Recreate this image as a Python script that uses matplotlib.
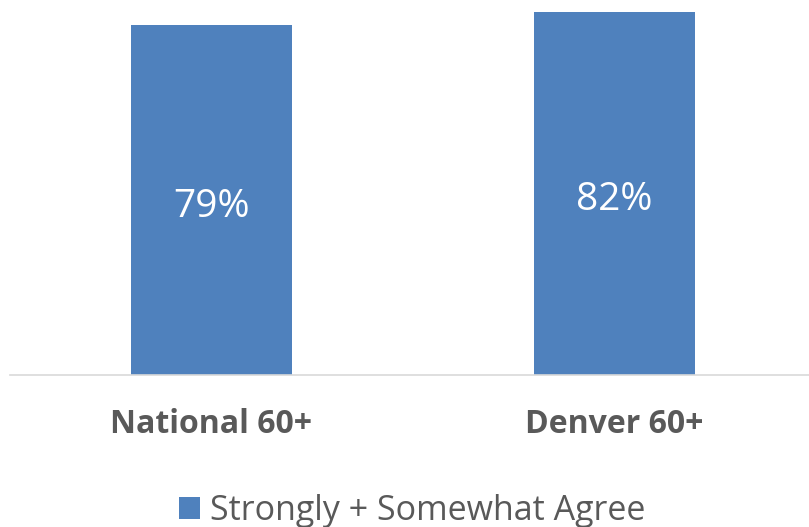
import matplotlib.pyplot as plt

categories = ['National 60+', 'Denver 60+']
values = [79, 82]
series_name = 'Strongly + Somewhat Agree'

bar_color = '#4F81BD'
text_grey = '#595959'

plt.rcParams['font.family'] = ['Open Sans', 'DejaVu Sans']

fig = plt.figure(figsize=(8.09, 5.27), dpi=100)
# axes: left edge at the axis line start, bottom at the baseline (y=375 px)
ax = fig.add_axes([10 / 809, (527 - 375) / 527, 806 / 809, 375 / 527])

x = range(len(categories))
bars = ax.bar(x, values, width=0.4, color=bar_color, label=series_name)
ax.set_xlim(-0.5, 1.5)
ax.set_ylim(0, 84.6)

for b, v in zip(bars, values):
    ax.annotate(f'{v}%', (b.get_x() + b.get_width() / 2, v / 2),
                xytext=(0, -5), textcoords='offset points',
                ha='center', va='center', color='white', fontsize=28)

ax.set_xticks(list(x))
ax.set_xticklabels(categories, fontsize=23, fontweight='bold', color=text_grey)
ax.tick_params(axis='x', length=0, pad=24)
ax.set_yticks([])
for side in ['left', 'right', 'top']:
    ax.spines[side].set_visible(False)
ax.spines['bottom'].set_color('#D9D9D9')
ax.spines['bottom'].set_linewidth(1.2)

leg = fig.legend(loc='center', bbox_to_anchor=(0.5 + 8 / 809, 1 - 511 / 527), frameon=False,
                 fontsize=24.5, handlelength=0.62, handleheight=0.62, handletextpad=0.3,
                 labelcolor=text_grey)

fig.savefig('out.png', dpi=100)
